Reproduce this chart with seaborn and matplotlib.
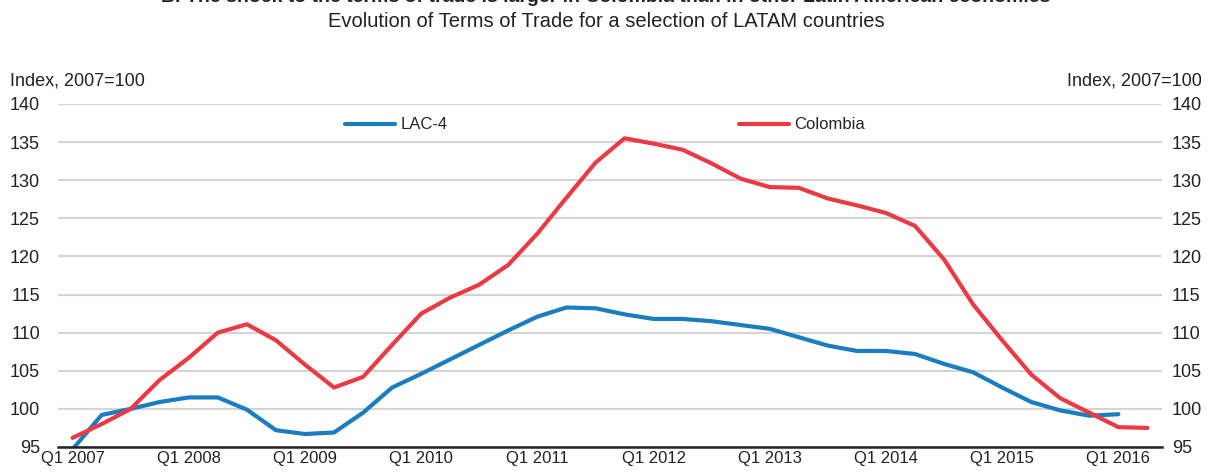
import numpy as np
import pandas as pd
import seaborn as sns
import matplotlib.pyplot as plt

# quarterly terms of trade index, Q1 2007 .. Q2 2016
lac4 = [94.7, 99.2, 100.0, 100.9, 101.5, 101.5, 99.9, 97.2, 96.7, 96.9,
        99.5, 102.8, 104.6, 106.5, 108.4, 110.3, 112.1, 113.3, 113.2, 112.4,
        111.8, 111.8, 111.5, 111.0, 110.5, 109.4, 108.3, 107.6, 107.6, 107.2,
        105.9, 104.8, 102.8, 100.9, 99.8, 99.1, 99.3, np.nan]
colombia = [96.2, 98.0, 100.0, 103.8, 106.7, 110.0, 111.1, 109.0, 105.8, 102.8,
            104.2, 108.4, 112.5, 114.6, 116.3, 118.9, 123.0, 127.7, 132.3, 135.5,
            134.8, 134.0, 132.2, 130.2, 129.1, 129.0, 127.6, 126.7, 125.7, 124.0,
            119.6, 113.7, 109.0, 104.5, 101.4, 99.5, 97.6, 97.5]
tick_labels = ["Q1 2007", "Q1 2008", "Q1 2009", "Q1 2010", "Q1 2011",
               "Q1 2012", "Q1 2013", "Q1 2014", "Q1 2015", "Q1 2016"]
yticks = [95, 100, 105, 110, 115, 120, 125, 130, 135, 140]

n = len(colombia)
df = pd.DataFrame({
    "q": list(range(n)) * 2,
    "value": lac4 + colombia,
    "series": ["LAC-4"] * n + ["Colombia"] * n,
})

sns.set_style("white")
plt.rcParams["font.family"] = ["Liberation Sans Narrow", "DejaVu Sans Condensed",
                               "Liberation Sans", "DejaVu Sans"]
ink = "#222222"

fig = plt.figure(figsize=(12.12, 4.74), dpi=100)
ax = fig.add_axes([0.0479, 0.057, 0.9108, 0.7236])

sns.lineplot(data=df, x="q", y="value", hue="series",
             palette={"LAC-4": "#1a7dc1", "Colombia": "#ec3a44"},
             linewidth=3, ax=ax, legend=True)

ax.set_xlim(-0.5, n - 0.5)
ax.set_ylim(95, 140)
ax.set_yticks(yticks)
ax.yaxis.grid(True, color="#d4d4d4", linewidth=1.5)
ax.set_axisbelow(True)
ax.tick_params(axis="y", length=0, labelsize=13, pad=13, colors=ink)

# right-hand copy of the value axis
ax2 = ax.twinx()
ax2.set_ylim(ax.get_ylim())
ax2.set_yticks(yticks)
ax2.tick_params(axis="y", length=0, labelsize=13, pad=7, colors=ink)
for s in ax2.spines.values():
    s.set_visible(False)

ax.set_xticks(list(range(0, n, 4)))
ax.set_xticklabels(tick_labels)
ax.set_xticks(np.arange(-0.5, n, 1), minor=True)
ax.tick_params(axis="x", which="major", length=0, labelsize=12, pad=3, colors=ink)
ax.tick_params(axis="x", which="minor", direction="in", length=6, width=1.2, color=ink)

for s in ["left", "right", "top"]:
    ax.spines[s].set_visible(False)
ax.spines["bottom"].set_color(ink)
ax.spines["bottom"].set_linewidth(1.8)
ax.set_xlabel("")
ax.set_ylabel("")

ax.legend(loc="center", bbox_to_anchor=(0.4955, 0.939), ncol=2, frameon=False,
          fontsize=12, handlelength=3.0, handletextpad=0.3, columnspacing=17.5,
          borderaxespad=0)

fig.text(0.5, 1.006, "B. The shock to the terms of trade is larger in Colombia than in other Latin American economies",
         ha="center", va="center", fontsize=14, fontweight="bold", color=ink)
fig.text(0.5, 0.955, "Evolution of Terms of Trade for a selection of LATAM countries",
         ha="center", va="center", fontsize=14.5, color=ink)
fig.text(0.008, 0.83, "Index, 2007=100", ha="left", va="center", fontsize=13, color=ink)
fig.text(0.992, 0.83, "Index, 2007=100", ha="right", va="center", fontsize=13, color=ink)

fig.savefig("out.png", dpi=100)
